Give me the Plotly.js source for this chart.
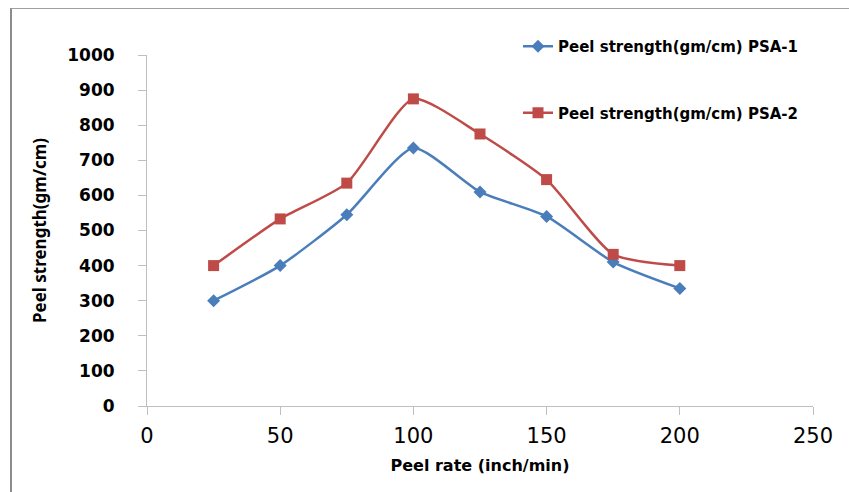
<!DOCTYPE html>
<html>
<head>
<meta charset="utf-8">
<script src="https://cdn.plot.ly/plotly-3.0.1.min.js"></script>
<style>
  html, body { margin: 0; padding: 0; background: #fff; }
  #wrap { position: relative; width: 849px; height: 492px; }
  #chart { width: 849px; height: 492px; }
  #frame { position: absolute; left: 10px; top: 8px; right: 0; bottom: 0;
           border-top: 1px solid #a0a0a0; border-left: 2px solid #8c8c8c;
           pointer-events: none; }
</style>
</head>
<body>
<div id="wrap">
  <div id="chart"></div>
  <div id="frame"></div>
</div>
<script>
const peelRate = [25, 50, 75, 100, 125, 150, 175, 200];
const psa1 = [300, 400, 545, 735, 610, 540, 410, 335];
const psa2 = [400, 533, 635, 875, 775, 645, 432, 400];
const seriesNames = ['Peel strength(gm/cm) PSA-1', 'Peel strength(gm/cm) PSA-2'];
const xTicks = [0, 50, 100, 150, 200, 250];
const yTicks = [0, 100, 200, 300, 400, 500, 600, 700, 800, 900, 1000];

const traces = [
  {
    x: peelRate, y: psa1, name: seriesNames[0], legendgroup: 'a',
    type: 'scatter', mode: 'lines+markers',
    line: { color: '#4A7EBB', width: 2.5, shape: 'spline', smoothing: 0.6 },
    marker: { symbol: 'diamond', size: 10, color: '#4A7EBB' }
  },
  {
    x: peelRate, y: psa2, name: seriesNames[1], legendgroup: 'b',
    type: 'scatter', mode: 'lines+markers',
    line: { color: '#BE4B48', width: 2.5, shape: 'spline', smoothing: 0.6 },
    marker: { symbol: 'square', size: 11, color: '#BE4B48' }
  }
];

const layout = {
  width: 849, height: 492,
  margin: { l: 147, r: 36, t: 55, b: 86, autoexpand: false },
  paper_bgcolor: '#ffffff', plot_bgcolor: '#ffffff',
  showlegend: true,
  legend: {
    xref: 'container', yref: 'container',
    x: 518 / 849, y: 1 - 30 / 492, xanchor: 'left', yanchor: 'top',
    traceorder: 'grouped', tracegroupgap: 44,
    font: { family: 'DejaVu Sans', size: 15, color: '#000', weight: 'bold' },
    bgcolor: 'rgba(0,0,0,0)', itemwidth: 30
  },
  xaxis: {
    range: [0, 250], tickvals: xTicks, ticktext: xTicks.map(String),
    showgrid: false, zeroline: false,
    showline: true, linecolor: '#BFBFBF', linewidth: 1,
    ticks: 'outside', ticklen: 8, tickcolor: '#BFBFBF',
    ticklabelstandoff: 3,
    tickfont: { family: 'DejaVu Sans', size: 21, color: '#000' },
    title: { text: 'Peel rate (inch/min)', standoff: 12,
             font: { family: 'DejaVu Sans', size: 16, color: '#000', weight: 'bold' } }
  },
  yaxis: {
    range: [0, 1000], tickvals: yTicks, ticktext: yTicks.map(String),
    showgrid: false, zeroline: false,
    showline: true, linecolor: '#BFBFBF', linewidth: 1,
    ticks: 'outside', ticklen: 8, tickcolor: '#BFBFBF',
    ticklabelstandoff: 20,
    tickfont: { family: 'DejaVu Sans', size: 17, color: '#000', weight: 'bold' },
    title: { text: 'Peel strength(gm/cm)', standoff: 16,
             font: { family: 'Noto Sans', size: 17, color: '#000', weight: 'bold' } }
  }
};

Plotly.newPlot('chart', traces, layout, { displayModeBar: false, staticPlot: true });
</script>
</body>
</html>
